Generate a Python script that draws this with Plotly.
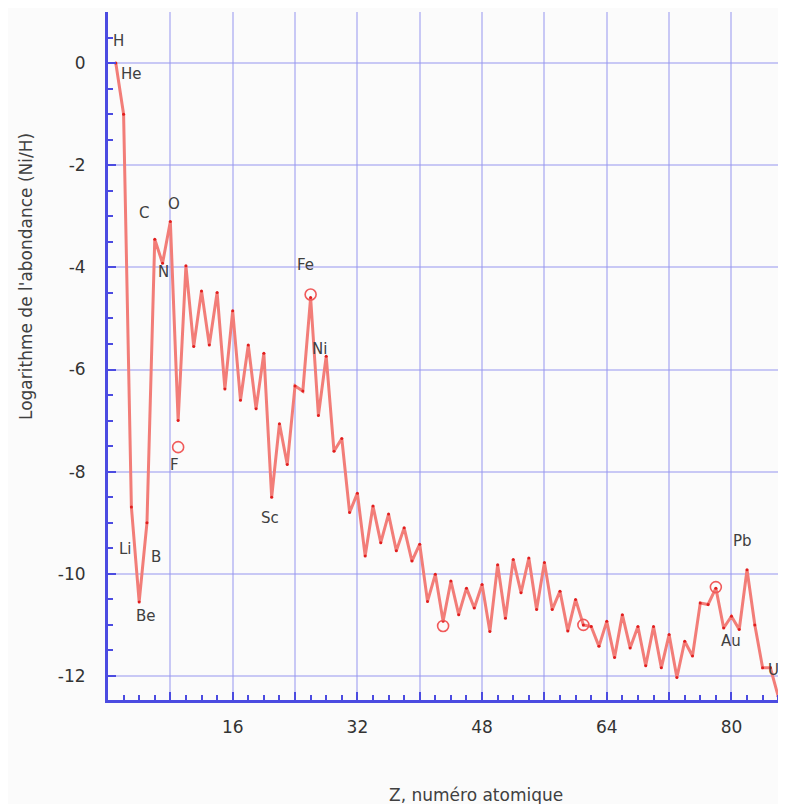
import plotly.graph_objects as go

# Atomic number and log10 abundance relative to hydrogen
z_values = list(range(1, 87))
log_abundance = [
    0.0, -1.0, -8.69, -10.55, -9.0, -3.45, -3.92, -3.1, -7.0, -3.97,
    -5.55, -4.46, -5.52, -4.49, -6.38, -4.85, -6.6, -5.52, -6.77, -5.68,
    -8.5, -7.06, -7.86, -6.32, -6.42, -4.59, -6.9, -5.74, -7.6, -7.35,
    -8.8, -8.42, -9.65, -8.67, -9.39, -8.83, -9.55, -9.1, -9.75, -9.42,
    -10.54, -10.01, -10.93, -10.14, -10.8, -10.28, -10.67, -10.21, -11.13, -9.82,
    -10.87, -9.72, -10.37, -9.69, -10.7, -9.78, -10.7, -10.34, -11.12, -10.5,
    -11.0, -11.03, -11.42, -10.93, -11.64, -10.8, -11.45, -11.03, -11.8, -11.03,
    -11.84, -11.19, -12.03, -11.32, -11.61, -10.57, -10.6, -10.28, -11.06, -10.83,
    -11.09, -9.92, -11.0, -11.84, -11.84, -12.4,
]

# Circled points
circle_z = [9, 26, 43, 61, 78]
circle_v = [-7.52, -4.53, -11.02, -11.0, -10.26]

# Element labels
label_text = ["H", "He", "C", "O", "N", "F", "Li", "B", "Be", "Sc", "Fe", "Ni", "Pb", "Au", "U"]
label_z = [1.3, 3.0, 4.6, 8.5, 7.1, 8.5, 2.2, 6.2, 4.9, 20.8, 25.4, 27.1, 81.4, 80.0, 85.4]
label_v = [0.43, -0.22, -2.94, -2.76, -4.09, -7.87, -9.51, -9.67, -10.83, -8.91, -3.95, -5.6, -9.36, -11.32, -11.88]

x_tick_vals = [8, 16, 24, 32, 40, 48, 56, 64, 72, 80]
x_tick_text = ["", "16", "", "32", "", "48", "", "64", "", "80"]
y_tick_vals = [0, -2, -4, -6, -8, -10, -12]
y_tick_text = ["0", "-2", "-4", "-6", "-8", "-10", "-12"]

axis_blue = "rgb(75,75,225)"
grid_blue = "rgba(150,150,240,0.5)"
font_fam = "DejaVu Sans, Arial, sans-serif"

fig = go.Figure()
fig.add_trace(go.Scatter(
    x=z_values, y=log_abundance, mode="lines+markers",
    line=dict(color="rgb(242,125,120)", width=3),
    marker=dict(color="rgb(225,30,30)", size=3),
    hoverinfo="x+y", showlegend=False,
))
fig.add_trace(go.Scatter(
    x=circle_z, y=circle_v, mode="markers",
    marker=dict(symbol="circle-open", size=11, color="rgb(240,90,90)", line=dict(width=1.6)),
    showlegend=False,
))

for t, zx, v in zip(label_text, label_z, label_v):
    fig.add_annotation(x=zx, y=v, text=t, showarrow=False,
                       font=dict(family=font_fam, size=15, color="#404040"))

fig.add_annotation(xref="paper", yref="paper", x=(476 - 108) / 678, y=-(795 - 700) / 688,
                   text="Z, numéro atomique", showarrow=False, yanchor="middle",
                   font=dict(family=font_fam, size=17, color="#404040"))
fig.add_annotation(xref="paper", yref="paper", x=-(108 - 26) / 678, y=(700 - 277) / 688,
                   text="Logarithme de l'abondance (Ni/H)", showarrow=False, textangle=-90,
                   xanchor="center", yanchor="middle",
                   font=dict(family=font_fam, size=17, color="#404040"))

fig.update_layout(
    width=778, height=796,
    margin=dict(l=100, r=0, t=4, b=104),
    paper_bgcolor="#fbfbfb", plot_bgcolor="#fbfbfb",
    xaxis=dict(range=[0, 87], tickvals=x_tick_vals, ticktext=x_tick_text,
               showgrid=True, gridcolor=grid_blue, gridwidth=2,
               showline=True, linecolor=axis_blue, linewidth=3, mirror=False,
               ticks="inside", ticklen=8, tickwidth=2, tickcolor=axis_blue,
               minor=dict(dtick=2, ticks="inside", ticklen=5, tickwidth=2, tickcolor=axis_blue, showgrid=False),
               tickfont=dict(family=font_fam, size=17, color="#333"),
               ticklabelstandoff=10, zeroline=False),
    yaxis=dict(range=[-12.47, 1.0], tickvals=y_tick_vals, ticktext=y_tick_text,
               showgrid=True, gridcolor=grid_blue, gridwidth=2,
               showline=True, linecolor=axis_blue, linewidth=3, mirror=False,
               ticks="inside", ticklen=8, tickwidth=2, tickcolor=axis_blue,
               minor=dict(dtick=0.5, ticks="inside", ticklen=5, tickwidth=2, tickcolor=axis_blue, showgrid=False),
               tickfont=dict(family=font_fam, size=17, color="#333"),
               ticklabelstandoff=16, zeroline=False),
)

fig.write_html("out.html")
